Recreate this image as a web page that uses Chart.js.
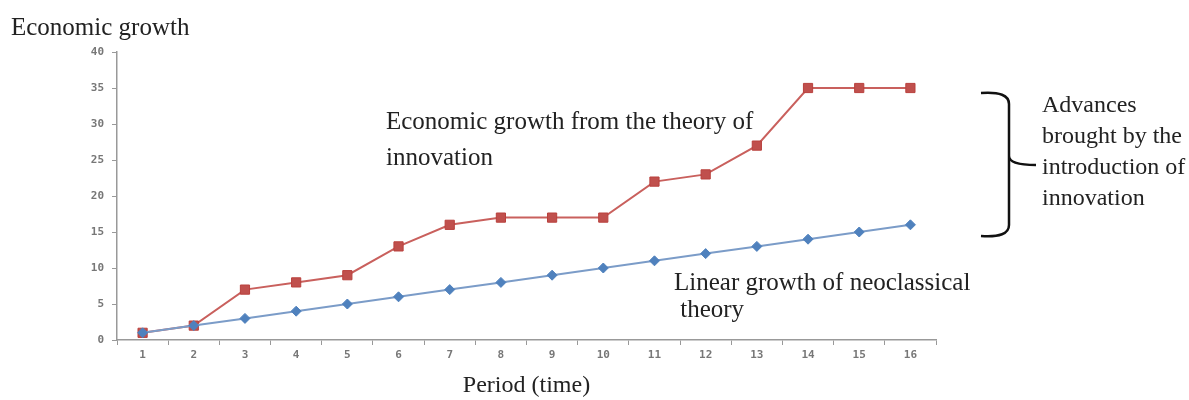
<!DOCTYPE html>
<html>
<head>
<meta charset="utf-8">
<script src="https://cdn.jsdelivr.net/npm/chart.js@4.4.0/dist/chart.umd.min.js"></script>
<style>
  html, body { margin: 0; padding: 0; background: #fff; }
  #wrap { width: 1189px; height: 400px; }
</style>
</head>
<body>
<div id="wrap"><canvas id="grafica"></canvas></div>
<script>
// periodos y valores
const periodos = ['1','2','3','4','5','6','7','8','9','10','11','12','13','14','15','16'];
const innovacion = [1, 2, 7, 8, 9, 13, 16, 17, 17, 17, 22, 23, 27, 35, 35, 35];
const neoclasica = [1, 2, 3, 4, 5, 6, 7, 8, 9, 10, 11, 12, 13, 14, 15, 16];
const yTicks = [0, 5, 10, 15, 20, 25, 30, 35, 40];

const serif = '"Liberation Serif", "Times New Roman", serif';

// textos y llave dibujados encima del grafico
const anotaciones = {
    id: 'anotaciones',
    afterDraw(chart) {
        const ctx = chart.ctx;
        ctx.save();
        ctx.fillStyle = '#222';
        ctx.font = '25px ' + serif;
        ctx.textBaseline = 'middle';
        ctx.textAlign = 'left';
        ctx.fillText('Economic growth', 11, 28);
        ctx.fillText('Economic growth from the theory of', 386, 122);
        ctx.fillText('innovation', 386, 158);
        ctx.fillText('Linear growth of neoclassical', 674, 283);
        ctx.fillText(' theory', 674, 310);
        ctx.font = '24px ' + serif;
        const lineas = ['Advances', 'brought by the', 'introduction of', 'innovation'];
        lineas.forEach((t, i) => ctx.fillText(t, 1042, 106 + i * 31));

        // llave
        ctx.strokeStyle = '#111';
        ctx.lineWidth = 2.5;
        ctx.beginPath();
        ctx.moveTo(981, 93);
        ctx.quadraticCurveTo(1009, 91, 1009, 104);
        ctx.lineTo(1009, 156);
        ctx.quadraticCurveTo(1009, 165, 1036, 165);
        ctx.moveTo(1009, 156);
        ctx.quadraticCurveTo(1009, 165, 1009, 174);
        ctx.lineTo(1009, 225);
        ctx.quadraticCurveTo(1009, 238, 981, 236);
        ctx.stroke();
        ctx.restore();
    }
};

new Chart(document.getElementById('grafica').getContext('2d'), {
    type: 'line',
    data: {
        labels: periodos,
        datasets: [{
            label: 'Neoclásica',
            data: neoclasica,
            borderColor: '#7b9cc8',
            backgroundColor: '#4f81bd',
            pointBorderColor: '#4f81bd',
            borderWidth: 2,
            pointStyle: 'rectRot',
            pointRadius: 5,
            pointBorderWidth: 1,
            tension: 0
        }, {
            label: 'Innovación',
            data: innovacion,
            borderColor: '#c9605d',
            backgroundColor: '#c0504d',
            pointBorderColor: '#b9403d',
            borderWidth: 2,
            pointStyle: 'rect',
            pointRadius: 6.5,
            pointBorderWidth: 1,
            tension: 0
        }]
    },
    options: {
        responsive: true,
        maintainAspectRatio: false,
        animation: false,
        layout: { padding: { top: 52, right: 253, left: 0, bottom: 0 } },
        plugins: {
            legend: { display: false },
            tooltip: { enabled: false }
        },
        scales: {
            x: {
                offset: true,
                grid: {
                    offset: true,
                    drawOnChartArea: false,
                    drawTicks: true,
                    tickLength: 5,
                    color: '#999'
                },
                border: { color: '#999', width: 1.5 },
                ticks: {
                    color: '#777',
                    font: { family: '"DejaVu Sans Mono", monospace', size: 11, weight: 'bold' },
                    padding: 4,
                    maxRotation: 0
                },
                title: {
                    display: true,
                    text: 'Period (time)',
                    color: '#222',
                    font: { family: serif, size: 24 },
                    padding: { top: 0, bottom: 0 }
                },
                afterFit(scale) { scale.height = 60; }
            },
            y: {
                min: 0,
                max: 40,
                afterBuildTicks(scale) { scale.ticks = yTicks.map(v => ({ value: v })); },
                grid: {
                    drawOnChartArea: false,
                    drawTicks: true,
                    tickLength: 5,
                    color: '#999'
                },
                border: { color: '#999', width: 1.5 },
                ticks: {
                    color: '#777',
                    font: { family: '"DejaVu Sans Mono", monospace', size: 11, weight: 'bold' },
                    padding: 8
                },
                afterFit(scale) { scale.width = 117; }
            }
        }
    },
    plugins: [anotaciones]
});
</script>
</body>
</html>
